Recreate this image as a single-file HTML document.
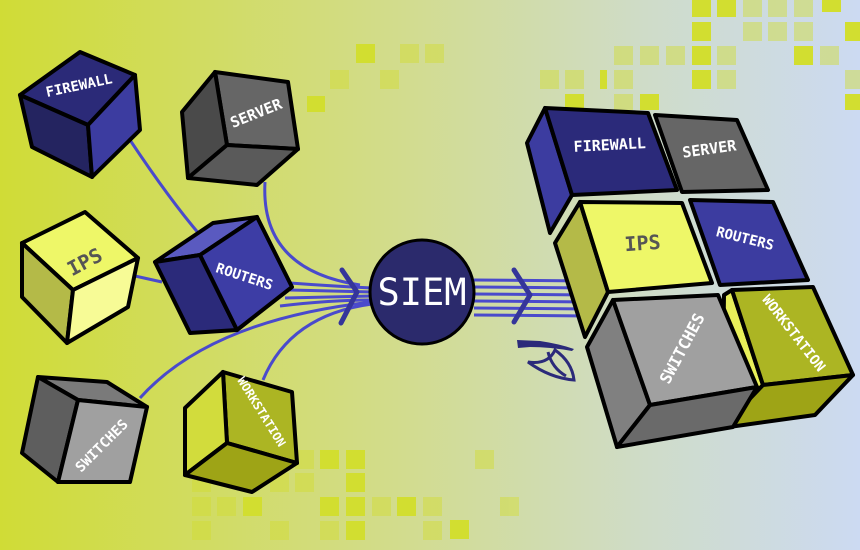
<!DOCTYPE html>
<html><head><meta charset="utf-8"><style>
html,body{margin:0;padding:0;width:860px;height:550px;overflow:hidden}
svg text{font-family:"DejaVu Sans Mono","Liberation Mono",monospace;font-weight:bold;fill:#fff}
</style></head><body>
<svg width="860" height="550" viewBox="0 0 860 550" xmlns="http://www.w3.org/2000/svg">
<defs>
<linearGradient id="bg" x1="0" y1="0" x2="1" y2="0">
<stop offset="0" stop-color="#d0dc36"/>
<stop offset="0.45" stop-color="#d2dc8a"/>
<stop offset="0.75" stop-color="#cfdcc8"/>
<stop offset="1" stop-color="#ccdaf2"/>
</linearGradient>
</defs>
<rect width="860" height="550" fill="url(#bg)"/>
<g fill="#d2de30">
<rect x="692" y="0" width="19" height="17"/><rect x="717" y="0" width="19" height="17"/>
<rect x="692" y="22" width="19" height="19"/><rect x="692" y="46" width="19" height="19"/>
<rect x="692" y="70" width="19" height="19"/><rect x="794" y="46" width="19" height="19"/>
<rect x="845" y="94" width="15" height="16"/><rect x="640" y="94" width="19" height="16"/>
<rect x="600" y="70" width="7" height="19"/>
<rect x="845" y="22" width="15" height="19"/>
<rect x="822" y="0" width="19" height="12"/>
<rect x="356" y="44" width="19" height="19"/><rect x="565" y="94" width="19" height="16"/>
<rect x="307" y="96" width="18" height="16"/>
</g>
<g fill="#d2de30" opacity="0.45">
<rect x="743" y="0" width="19" height="17"/><rect x="768" y="0" width="19" height="17"/><rect x="794" y="0" width="19" height="17"/>
<rect x="743" y="22" width="19" height="19"/><rect x="768" y="22" width="19" height="19"/><rect x="794" y="22" width="19" height="19"/>
<rect x="717" y="46" width="19" height="19"/><rect x="666" y="46" width="19" height="19"/><rect x="640" y="46" width="19" height="19"/><rect x="614" y="46" width="19" height="19"/>
<rect x="614" y="70" width="19" height="19"/><rect x="717" y="70" width="19" height="19"/><rect x="845" y="70" width="15" height="19"/>
<rect x="614" y="94" width="19" height="16"/><rect x="820" y="46" width="19" height="19"/>
<rect x="540" y="70" width="19" height="19"/><rect x="565" y="70" width="19" height="19"/>
<rect x="380" y="70" width="19" height="19"/><rect x="330" y="70" width="19" height="19"/>
<rect x="400" y="44" width="19" height="19"/><rect x="425" y="44" width="19" height="19"/>
</g>
<g fill="#d2de30">
<rect x="320" y="450" width="19" height="19"/><rect x="346" y="450" width="19" height="19"/>
<rect x="346" y="473" width="19" height="19"/><rect x="320" y="497" width="19" height="19"/>
<rect x="346" y="497" width="19" height="19"/><rect x="346" y="521" width="19" height="19"/>
<rect x="243" y="497" width="19" height="19"/><rect x="397" y="497" width="19" height="19"/>
<rect x="450" y="520" width="19" height="19"/>
</g>
<g fill="#d2de30" opacity="0.45">
<rect x="295" y="450" width="19" height="19"/><rect x="270" y="473" width="19" height="19"/><rect x="295" y="473" width="19" height="19"/>
<rect x="192" y="473" width="19" height="19"/><rect x="192" y="497" width="19" height="19"/><rect x="217" y="497" width="19" height="19"/>
<rect x="192" y="521" width="19" height="19"/><rect x="320" y="521" width="19" height="19"/><rect x="372" y="497" width="19" height="19"/>
<rect x="423" y="497" width="19" height="19"/><rect x="423" y="521" width="19" height="19"/><rect x="475" y="450" width="19" height="19"/>
<rect x="500" y="497" width="19" height="19"/><rect x="270" y="521" width="19" height="19"/>
</g>
<g fill="none" stroke="#4a4acc" stroke-width="3">
<path d="M130,140 Q170,200 200,235"/>
<path d="M265,182 Q260,270 360,285"/>
<path d="M135,276 L162,282"/>
<path d="M290,283 Q330,286 372,288"/>
<path d="M290,290 L372,292"/>
<path d="M285,298 L372,296"/>
<path d="M280,306 Q330,300 372,300"/>
<path d="M140,398 Q210,320 372,302"/>
<path d="M263,380 Q290,315 372,304"/>
<path d="M474,280 L590,281"/><path d="M474,287 L590,288"/><path d="M474,294 L590,295"/>
<path d="M474,301 L590,302"/><path d="M474,308 L590,309"/><path d="M474,315 L590,316"/>
</g>
<g fill="none" stroke="#35359a" stroke-width="5" stroke-linecap="round" stroke-linejoin="round">
<path d="M342,270 L357,292 L341,323"/>
<path d="M514,270 L530,295 L514,322"/>
</g>
<circle cx="422" cy="292" r="52" fill="#2b2a6c" stroke="#000" stroke-width="3"/>
<text x="422" y="305" text-anchor="middle" font-size="37" style="font-weight:normal">SIEM</text>
<!-- eye -->
<path d="M517,340 L540,341 Q560,344 574,349 L572,351 Q550,347 530,347 L518,348 Z" fill="#2b2a7a"/>
<path d="M528,362 Q550,378 574,380 Q572,362 555,350 Q548,365 528,362 Z" fill="none" stroke="#2b2a7a" stroke-width="3"/>
<path d="M548,352 Q552,368 566,376" fill="none" stroke="#2b2a7a" stroke-width="3"/>
<g stroke="#000" stroke-width="4" stroke-linejoin="round">
<polygon points="20,95 80,52 135,75 88,125" fill="#2b2a78"/>
<polygon points="20,95 88,125 92,177 32,147" fill="#242460"/>
<polygon points="88,125 135,75 140,130 92,177" fill="#3c3ca0"/>
<polygon points="215,72 288,82 298,149 227,145" fill="#666"/>
<polygon points="182,112 215,72 227,145 188,178" fill="#4a4a4a"/>
<polygon points="227,145 298,149 257,185 188,178" fill="#5a5a5a"/>
<polygon points="22,243 85,212 138,258 73,290" fill="#eef768"/>
<polygon points="22,243 73,290 67,343 22,297" fill="#b4ba48"/>
<polygon points="73,290 138,258 128,307 67,343" fill="#f7fb96"/>
<polygon points="155,262 213,223 257,217 200,255" fill="#5a5ac0"/>
<polygon points="155,262 200,255 237,330 190,333" fill="#2b2a7a"/>
<polygon points="200,255 257,217 292,287 237,330" fill="#3d3da5"/>
<polygon points="38,377 107,382 147,407 78,400" fill="#7a7a7a"/>
<polygon points="38,377 78,400 58,482 22,453" fill="#5e5e5e"/>
<polygon points="78,400 147,407 130,482 58,482" fill="#a0a0a0"/>
<polygon points="223,372 292,392 297,463 227,443" fill="#acb523"/>
<polygon points="185,408 223,372 227,443 185,475" fill="#d2dc3c"/>
<polygon points="227,443 297,463 252,492 185,475" fill="#9ea416"/>
<polygon points="527,143 545,108 572,195 550,233" fill="#3c3ca0"/>
<polygon points="545,108 648,113 677,190 572,195" fill="#2b2a7a"/>
<polygon points="655,115 737,120 768,190 682,192" fill="#666"/>
<polygon points="555,243 580,202 608,292 585,337" fill="#b4ba48"/>
<polygon points="580,202 682,203 712,283 608,292" fill="#eef768"/>
<polygon points="690,200 773,202 808,280 720,285" fill="#3c3ca0"/>
<polygon points="724,295 732,290 763,385 722,428" fill="#e8ef5a"/>
<polygon points="732,290 813,287 853,375 763,385" fill="#acb523"/>
<polygon points="763,385 853,375 815,415 722,428" fill="#9ea416"/>
<polygon points="587,347 613,300 650,405 617,447" fill="#808080"/>
<polygon points="613,300 718,295 757,387 650,405" fill="#a0a0a0"/>
<polygon points="650,405 757,387 733,427 617,447" fill="#6a6a6a"/>
</g>
<text x="80" y="90" font-size="14" text-anchor="middle" transform="rotate(-12 80 90)">FIREWALL</text>
<text x="258" y="118" font-size="15" text-anchor="middle" transform="rotate(-22 258 118)">SERVER</text>
<text x="88" y="268" font-size="20" text-anchor="middle" transform="rotate(-28 88 268)" style="fill:#555">IPS</text>
<text x="243" y="281" font-size="14" text-anchor="middle" transform="rotate(18 243 281)">ROUTERS</text>
<text x="105" y="449" font-size="14" text-anchor="middle" transform="rotate(-45 105 449)">SWITCHES</text>
<text x="258" y="414" font-size="12" text-anchor="middle" transform="rotate(58 258 414)">WORKSTATION</text>
<text x="610" y="150" font-size="15" text-anchor="middle" transform="rotate(-3 610 150)">FIREWALL</text>
<text x="710" y="154" font-size="15" text-anchor="middle" transform="rotate(-8 710 154)">SERVER</text>
<text x="643" y="250" font-size="20" text-anchor="middle" transform="rotate(-4 643 250)" style="fill:#555">IPS</text>
<text x="744" y="243" font-size="14" text-anchor="middle" transform="rotate(14 744 243)">ROUTERS</text>
<text x="687" y="351" font-size="16" text-anchor="middle" transform="rotate(-62 687 351)">SWITCHES</text>
<text x="790" y="336" font-size="14" text-anchor="middle" transform="rotate(52 790 336)">WORKSTATION</text>
</svg>
</body></html>
